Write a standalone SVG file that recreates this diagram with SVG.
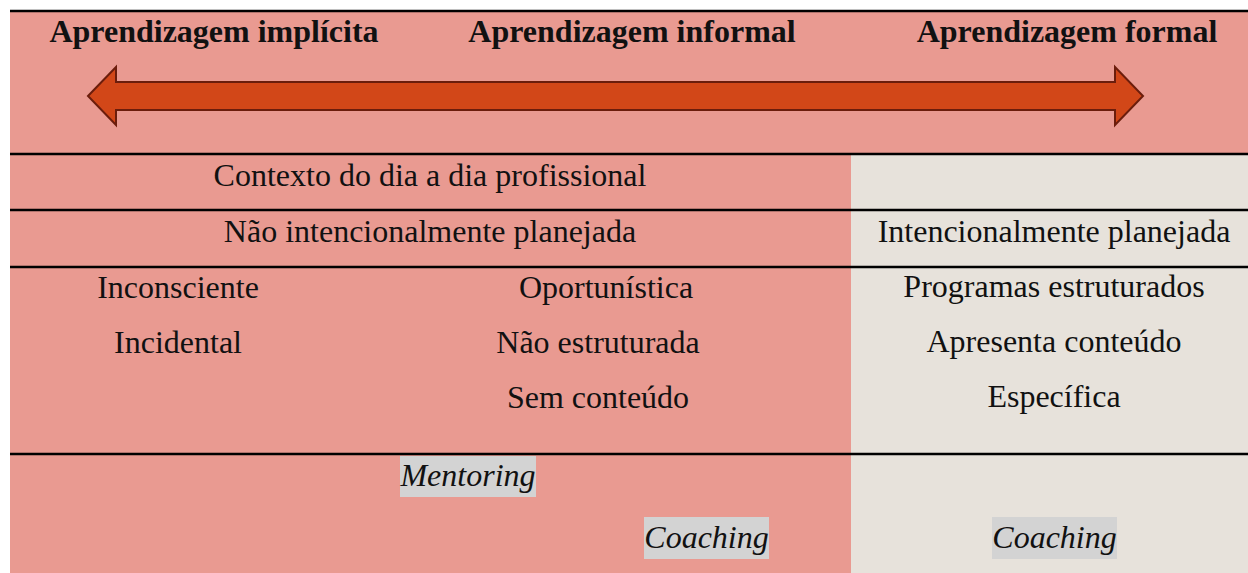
<svg xmlns="http://www.w3.org/2000/svg" width="1248" height="573" viewBox="0 0 1248 573">
  <style>
    .pink { fill: #E99A91; }
    .beige { fill: #E7E2DB; }
    .rule { stroke: #000; stroke-width: 2.4; fill: none; }
    .t { font-family: "Liberation Serif", "Times New Roman", serif; font-size: 32px; fill: #111; text-anchor: middle; }
    .b { font-weight: bold; }
    .i { font-style: italic; }
    .hl { fill: #D3D3D3; }
    .arrow { fill: #D24718; stroke: #6B1D0C; stroke-width: 2; stroke-linejoin: miter; }
  </style>
  <rect width="1248" height="573" fill="#FFFFFF"/>
  <g id="background">
    <rect class="pink" x="10" y="11" width="1238" height="562"/>
    <rect class="beige" x="851" y="155" width="397" height="418"/>
  </g>
  <g id="rules">
    <line class="rule" x1="10" y1="11" x2="1248" y2="11"/>
    <line class="rule" x1="10" y1="154" x2="1248" y2="154"/>
    <line class="rule" x1="10" y1="210" x2="1248" y2="210"/>
    <line class="rule" x1="10" y1="267" x2="1248" y2="267"/>
    <line class="rule" x1="10" y1="454" x2="1248" y2="454"/>
  </g>
  <g id="connectors">
    <polygon class="arrow" points="88,96 116,67 116,82 1115,82 1115,67 1143,96 1115,125 1115,110 116,110 116,125"/>
  </g>
  <g id="header-implicita"><text class="t b" x="214" y="42">Aprendizagem implícita</text></g>
  <g id="header-informal"><text class="t b" x="632" y="42">Aprendizagem informal</text></g>
  <g id="header-formal"><text class="t b" x="1067" y="42">Aprendizagem formal</text></g>
  <g id="row-contexto"><text class="t" x="430" y="186">Contexto do dia a dia profissional</text></g>
  <g id="row-nao-intencional"><text class="t" x="430" y="242">Não intencionalmente planejada</text></g>
  <g id="row-intencional"><text class="t" x="1054" y="242">Intencionalmente planejada</text></g>
  <g id="col-implicita">
    <text class="t" x="178" y="298">Inconsciente</text>
    <text class="t" x="178" y="353">Incidental</text>
  </g>
  <g id="col-informal">
    <text class="t" x="606" y="298">Oportunística</text>
    <text class="t" x="598" y="353">Não estruturada</text>
    <text class="t" x="598" y="408">Sem conteúdo</text>
  </g>
  <g id="col-formal">
    <text class="t" x="1054" y="297">Programas estruturados</text>
    <text class="t" x="1054" y="352">Apresenta conteúdo</text>
    <text class="t" x="1054" y="407">Específica</text>
  </g>
  <g id="mentoring">
    <rect class="hl" x="400" y="456" width="136" height="41"/>
    <text class="t i" x="468" y="486">Mentoring</text>
  </g>
  <g id="coaching-informal">
    <rect class="hl" x="644" y="517" width="125" height="42"/>
    <text class="t i" x="706.5" y="548">Coaching</text>
  </g>
  <g id="coaching-formal">
    <rect class="hl" x="992" y="517" width="125" height="42"/>
    <text class="t i" x="1054.5" y="548">Coaching</text>
  </g>
</svg>
